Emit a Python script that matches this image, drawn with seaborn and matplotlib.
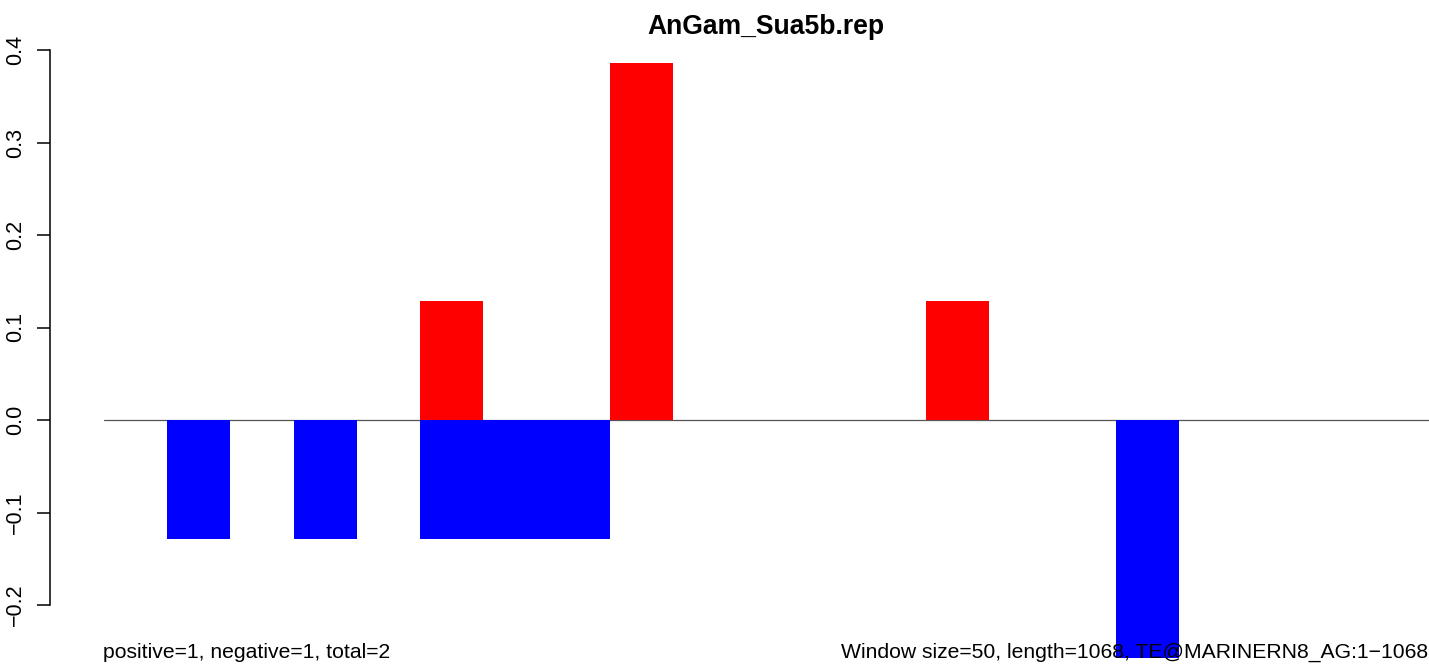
import matplotlib
matplotlib.use("Agg")
import matplotlib.pyplot as plt
import seaborn as sns
import pandas as pd

# ---- data ----
title = "AnGam_Sua5b.rep"
n_windows = 22
windows = list(range(n_windows))
pos_windows = [5, 8, 13]
pos_values = [0.1286, 0.3857, 0.1286]
neg_windows = [1, 3, 5, 6, 7, 16]
neg_values = [-0.1286, -0.1286, -0.1286, -0.1286, -0.1286, -0.2571]
y_ticks = [-0.2, -0.1, 0.0, 0.1, 0.2, 0.3, 0.4]
left_note = "positive=1, negative=1, total=2"
right_note = "Window size=50, length=1068, TE@MARINERN8_AG:1\u22121068"

pos_series = [0.0] * n_windows
for w, v in zip(pos_windows, pos_values):
    pos_series[w] = v
neg_series = [0.0] * n_windows
for w, v in zip(neg_windows, neg_values):
    neg_series[w] = v
df = pd.DataFrame({"window": windows, "pos": pos_series, "neg": neg_series})

sns.set_style("white")
plt.rcParams["font.family"] = ["Liberation Sans", "DejaVu Sans"]
plt.rcParams["text.color"] = "black"
plt.rcParams["ytick.color"] = "black"
plt.rcParams["ytick.labelcolor"] = "black"

W, H = 1429, 666
fig = plt.figure(figsize=(W / 100, H / 100), dpi=100)
# axes spans x 103.7..1429 px, y 30..666 px (image coords)
ax_left, ax_right = 103.7, 1429
ax_top, ax_bot = 30, 666
ax = fig.add_axes([ax_left / W, 1 - ax_bot / H, (ax_right - ax_left) / W, (ax_bot - ax_top) / H])

# y mapping: pixel = 420 - v*925
y_lo = (420 - ax_bot) / 925.0
y_hi = (420 - ax_top) / 925.0

ax.axhline(0, color="#555555", linewidth=0.9, zorder=0)
sns.barplot(data=df, x="window", y="neg", color="blue", saturation=1, width=1,
            order=windows, ax=ax, errorbar=None, zorder=2)
sns.barplot(data=df, x="window", y="pos", color="red", saturation=1, width=1,
            order=windows, ax=ax, errorbar=None, zorder=2)
for p in ax.patches:
    p.set_linewidth(0)

slot = 63.27
ax.set_xlim(-0.5, -0.5 + (ax_right - ax_left) / slot)
ax.set_ylim(y_lo, y_hi)

for s in ["top", "right", "bottom"]:
    ax.spines[s].set_visible(False)
ax.spines["left"].set_position(("outward", (ax_left - 50) * 0.72))
ax.spines["left"].set_bounds(-0.2, 0.4)
ax.spines["left"].set_linewidth(1.1)
ax.spines["left"].set_color("black")
ax.set_yticks(y_ticks)
ax.set_yticklabels([f"{t:.1f}".replace("-", "\u2212") for t in y_ticks],
                   rotation=90, va="center", fontsize=15.5)
ax.tick_params(axis="y", direction="out", length=9.4, width=1.1, pad=8, left=True,
               color="black", labelcolor="black")
ax.set_xticks([])
ax.set_xlabel("")
ax.set_ylabel("")

ax.text((ax_left + ax_right) / 2 / W, 1 - 27 / H, title, ha="center", va="center",
        fontsize=19.1, fontweight="bold", transform=fig.transFigure, clip_on=False,
        zorder=10, color="black")
ax.text(103 / W, 1 - 652 / H, left_note, ha="left", va="center", fontsize=15.2,
        transform=fig.transFigure, clip_on=False, zorder=10, color="black")
ax.text(841 / W, 1 - 652 / H, right_note, ha="left", va="center", fontsize=15.2,
        transform=fig.transFigure, clip_on=False, zorder=10, color="black")

fig.savefig("out.png", dpi=100)
